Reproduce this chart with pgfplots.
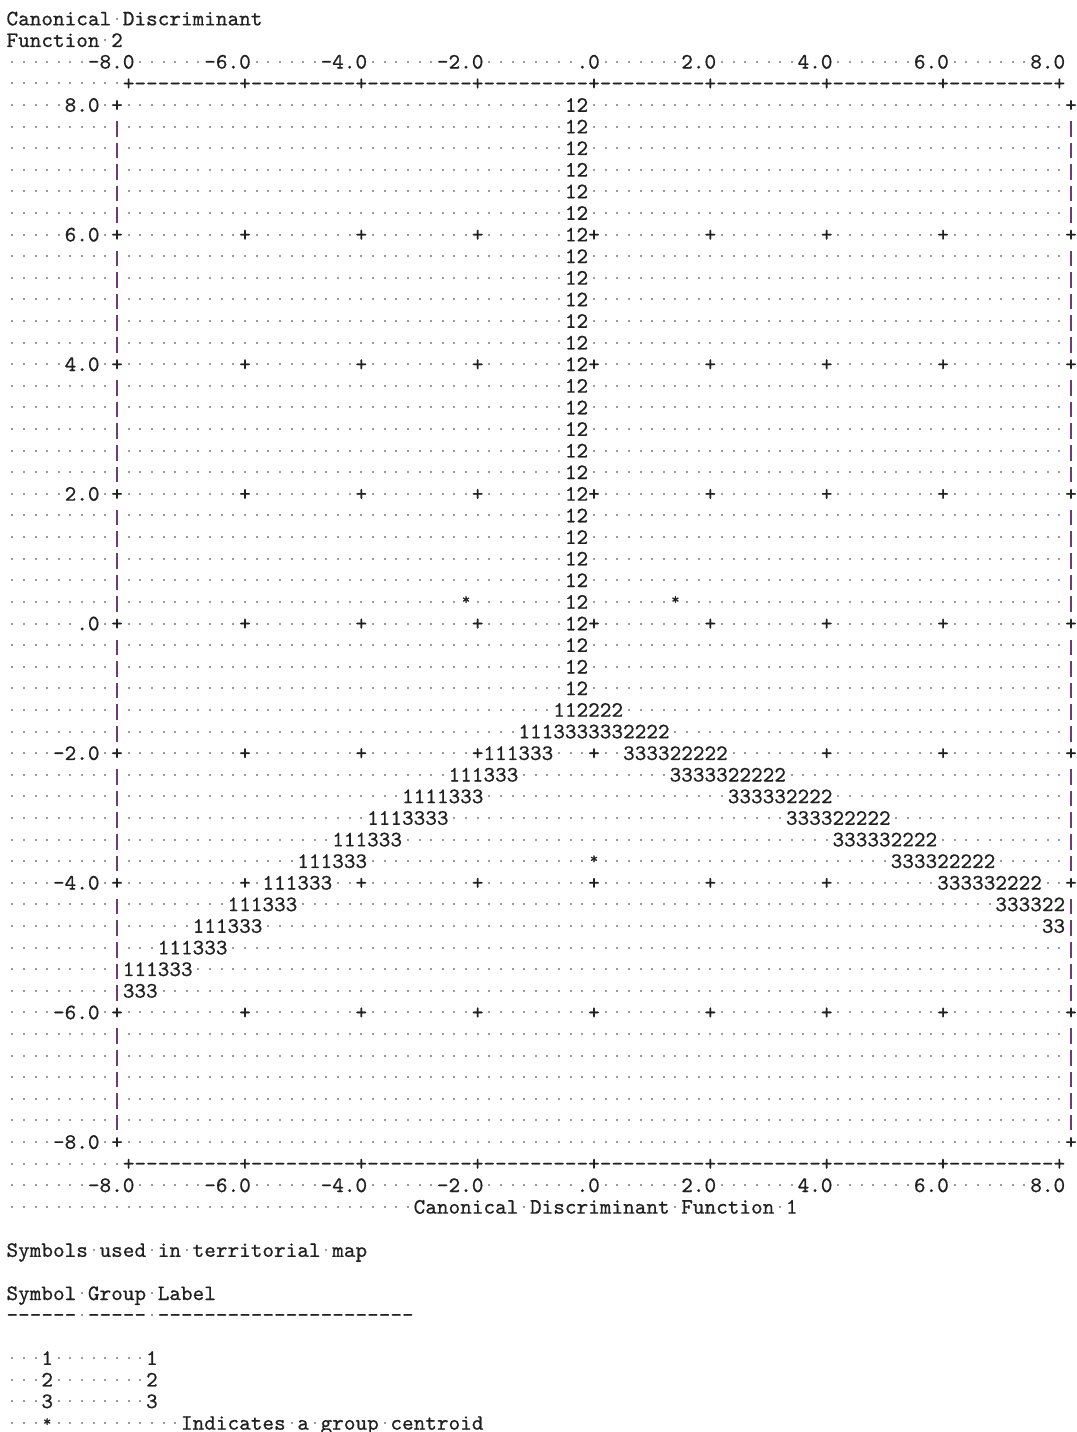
\documentclass[border=0pt]{standalone}
\usepackage{fontspec}
\usepackage{pgfplots}
\pgfplotsset{compat=1.18}
\definecolor{txt}{HTML}{202020}
\definecolor{dotc}{HTML}{9C9C9C}
\definecolor{barc}{HTML}{6E3A78}
\newdimen\cw \cw=5.817pt
\font\monofnt="[lmmono10-regular]:embolden=0.7" at 11pt
\font\starfnt="[lmmono10-regular]:embolden=0.7" at 8pt
\newcommand\mono{\monofnt}
\newcount\repc
\newcommand\rep[2]{\repc=#1\relax\loop\ifnum\repc>0 #2\advance\repc by -1\repeat}
\newcommand\dotcell{\makebox[\cw][c]{\textcolor{dotc}{\rule[2.89pt]{1pt}{1pt}}}}
\newcommand\Dt[1]{\rep{#1}{\dotcell}}
\newcommand\VB{\makebox[\cw][c]{\textcolor{barc}{\rule[-1.6pt]{0.55pt}{7.8pt}}}}
\newcommand\Em{\hspace*{\cw}}
\newcommand\Hy{\makebox[\cw][c]{-}}
\newcommand\Hn{\Hy\Hy\Hy\Hy\Hy\Hy\Hy\Hy\Hy}
\def\T#1{\Tloop#1\relax}
\def\Tloop#1{\ifx#1\relax\else\makebox[\cw][c]{#1}\expandafter\Tloop\fi}
\newcommand\Star{\makebox[\cw][c]{\raisebox{1.6pt}{\starfnt *}}}
\newcommand\Row[2]{\node[anchor=base west,inner sep=0pt,outer sep=0pt,yshift=-3.39pt,font=\mono,text=txt] at (axis cs:-10.1,{(28-#1)/3}) {#2};}
\newcommand\TwelveRow{\Dt{9}\VB\Dt{38}\T{12}\Dt{41}\VB}
\newcommand\PlainRow{\Dt{9}\VB\Dt{81}\VB}
\newcommand\TickTwelve[1]{#1\Dt{1}\T{+}\Dt{10}\T{+}\Dt{9}\T{+}\Dt{9}\T{+}\Dt{7}\T{12+}\Dt{9}\T{+}\Dt{9}\T{+}\Dt{9}\T{+}\Dt{10}\T{+}}
\newcommand\TickLabels{\Dt{7}\T{-8.0}\Dt{6}\T{-6.0}\Dt{6}\T{-4.0}\Dt{6}\T{-2.0}\Dt{8}\T{.0}\Dt{7}\T{2.0}\Dt{7}\T{4.0}\Dt{7}\T{6.0}\Dt{7}\T{8.0}}
\newcommand\AxisLine{\Dt{10}\T{+}\Hn\T{+}\Hn\T{+}\Hn\T{+}\Hn\T{+}\Hn\T{+}\Hn\T{+}\Hn\T{+}\Hn\T{+}}
\begin{document}
\begin{tikzpicture}
\useasboundingbox (0,0) rectangle (538.5pt,716pt);
\begin{axis}[at={(0pt,0pt)}, anchor=south west, scale only axis,
  width=538.5pt, height=716pt,
  xmin=-10.2117, xmax=8.3028, ymin=-12.4733, ymax=9.62,
  axis lines=none, clip=false]
% group centroids (Function 1, Function 2)
\addplot[only marks, color=txt, mark=text, text mark={*}, text mark as node=true,
  text mark style={font=\starfnt, text=txt, inner sep=0pt, yshift=0.8pt}]
  coordinates {(-2.2,0.3333) (1.4,0.3333) (0,-3.6667)};
% header
\Row{0}{\T{Canonical}\Dt{1}\T{Discriminant}}
\Row{1}{\T{Function}\Dt{1}\T{2}}
\Row{2}{\TickLabels}
\Row{3}{\AxisLine}
% territorial map
\Row{4}{\Dt{5}\T{8.0}\Dt{1}\T{+}\Dt{38}\T{12}\Dt{41}\T{+}}
\Row{5}{\TwelveRow}
\Row{6}{\TwelveRow}
\Row{7}{\TwelveRow}
\Row{8}{\TwelveRow}
\Row{9}{\TwelveRow}
\Row{10}{\TickTwelve{\Dt{5}\T{6.0}}}
\Row{11}{\TwelveRow}
\Row{12}{\TwelveRow}
\Row{13}{\TwelveRow}
\Row{14}{\TwelveRow}
\Row{15}{\TwelveRow}
\Row{16}{\TickTwelve{\Dt{5}\T{4.0}}}
\Row{17}{\TwelveRow}
\Row{18}{\TwelveRow}
\Row{19}{\TwelveRow}
\Row{20}{\TwelveRow}
\Row{21}{\TwelveRow}
\Row{22}{\TickTwelve{\Dt{5}\T{2.0}}}
\Row{23}{\TwelveRow}
\Row{24}{\TwelveRow}
\Row{25}{\TwelveRow}
\Row{26}{\TwelveRow}
\Row{27}{\Dt{9}\VB\Dt{29}\Em\Dt{8}\T{12}\Dt{7}\Em\Dt{33}\VB}
\Row{28}{\TickTwelve{\Dt{6}\T{.0}}}
\Row{29}{\TwelveRow}
\Row{30}{\TwelveRow}
\Row{31}{\TwelveRow}
\Row{32}{\Dt{9}\VB\Dt{37}\T{112222}\Dt{38}\VB}
\Row{33}{\Dt{9}\VB\Dt{34}\T{1113333332222}\Dt{34}\VB}
\Row{34}{\Dt{4}\T{-2.0}\Dt{1}\T{+}\Dt{10}\T{+}\Dt{9}\T{+}\Dt{9}\T{+111333}\Dt{3}\T{+}\Dt{2}\T{333322222}\Dt{8}\T{+}\Dt{9}\T{+}\Dt{10}\T{+}}
\Row{35}{\Dt{9}\VB\Dt{28}\T{111333}\Dt{13}\T{3333322222}\Dt{24}\VB}
\Row{36}{\Dt{9}\VB\Dt{24}\T{1111333}\Dt{21}\T{333332222}\Dt{20}\VB}
\Row{37}{\Dt{9}\VB\Dt{21}\T{1113333}\Dt{29}\T{333322222}\Dt{15}\VB}
\Row{38}{\Dt{9}\VB\Dt{18}\T{111333}\Dt{37}\T{333332222}\Dt{11}\VB}
\Row{39}{\Dt{9}\VB\Dt{15}\T{111333}\Dt{19}\Em\Dt{25}\T{333322222}\Dt{6}\VB}
\Row{40}{\Dt{4}\T{-4.0}\Dt{1}\T{+}\Dt{10}\T{+}\Dt{1}\T{111333}\Dt{2}\T{+}\Dt{9}\T{+}\Dt{9}\T{+}\Dt{9}\T{+}\Dt{9}\T{+}\Dt{9}\T{333332222}\Dt{2}\T{+}}
\Row{41}{\Dt{9}\VB\Dt{9}\T{111333}\Dt{60}\T{333322}\VB}
\Row{42}{\Dt{9}\VB\Dt{6}\T{111333}\Dt{67}\T{33}\VB}
\Row{43}{\Dt{9}\VB\Dt{3}\T{111333}\Dt{72}\VB}
\Row{44}{\Dt{9}\VB\T{111333}\Dt{75}\VB}
\Row{45}{\Dt{9}\VB\T{333}\Dt{78}\VB}
\Row{46}{\Dt{4}\T{-6.0}\Dt{1}\T{+}\Dt{10}\T{+}\Dt{9}\T{+}\Dt{9}\T{+}\Dt{9}\T{+}\Dt{9}\T{+}\Dt{9}\T{+}\Dt{9}\T{+}\Dt{10}\T{+}}
\Row{47}{\PlainRow}
\Row{48}{\PlainRow}
\Row{49}{\PlainRow}
\Row{50}{\PlainRow}
\Row{51}{\PlainRow}
\Row{52}{\Dt{4}\T{-8.0}\Dt{1}\T{+}\Dt{81}\T{+}}
\Row{53}{\AxisLine}
\Row{54}{\TickLabels}
\Row{55}{\Dt{35}\T{Canonical}\Dt{1}\T{Discriminant}\Dt{1}\T{Function}\Dt{1}\T{1}}
% legend
\Row{57}{\T{Symbols}\Dt{1}\T{used}\Dt{1}\T{in}\Dt{1}\T{territorial}\Dt{1}\T{map}}
\Row{59}{\T{Symbol}\Dt{1}\T{Group}\Dt{1}\T{Label}}
\Row{60}{\Hy\Hy\Hy\Hy\Hy\Hy\Dt{1}\Hy\Hy\Hy\Hy\Hy\Dt{1}\Hn\Hn\Hy\Hy\Hy\Hy}
\Row{62}{\Dt{3}\T{1}\Dt{8}\T{1}}
\Row{63}{\Dt{3}\T{2}\Dt{8}\T{2}}
\Row{64}{\Dt{3}\T{3}\Dt{8}\T{3}}
\Row{65}{\Dt{3}\Star\Dt{11}\T{Indicates}\Dt{1}\T{a}\Dt{1}\T{group}\Dt{1}\T{centroid}}
\end{axis}
\end{tikzpicture}
\end{document}
